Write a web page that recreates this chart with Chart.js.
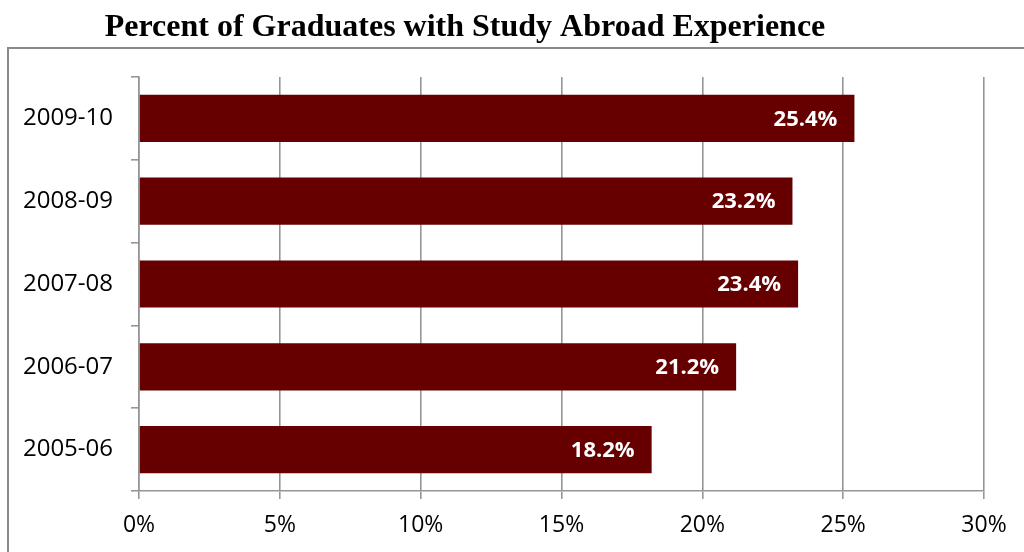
<!DOCTYPE html>
<html>
<head>
<meta charset="utf-8">
<script src="https://cdn.jsdelivr.net/npm/chart.js@4/dist/chart.umd.min.js"></script>
<style>
html,body{margin:0;padding:0;background:#fff;}
#wrap{width:1024px;height:552px;position:relative;}
</style>
</head>
<body>
<div id="wrap"><canvas id="c" width="1024" height="552"></canvas></div>
<script>
const years=['2009-10','2008-09','2007-08','2006-07','2005-06'];
const percents=[25.4,23.2,23.4,21.2,18.2];
const xTicks=[0,5,10,15,20,25,30];
const titleText='Percent of Graduates with Study Abroad Experience';

const barColor='#660000';
const gridColor='#959595';

// frame + title drawn on the canvas
const frame={
  id:'frame',
  beforeDraw(chart){
    const c=chart.ctx; c.save();
    c.fillStyle='#fff'; c.fillRect(0,0,chart.width,chart.height);
    c.strokeStyle='#8a8a8a'; c.lineWidth=2;
    c.strokeRect(8,48,1040,600);
    c.fillStyle='#000'; c.font='bold 32px "Liberation Serif"';
    c.textAlign='center'; c.textBaseline='alphabetic';
    c.fillText(titleText,465,36);
    c.restore();
  }
};

// white value labels inside bar ends
const barLabels={
  id:'barLabels',
  afterDatasetsDraw(chart){
    const c=chart.ctx, meta=chart.getDatasetMeta(0);
    c.save(); c.fillStyle='#fff'; c.font='bold 22px "Open Sans"';
    c.textAlign='right'; c.textBaseline='middle';
    meta.data.forEach((bar,i)=>{ c.fillText(percents[i].toFixed(1)+'%',bar.x-17,bar.y+1); });
    c.restore();
  }
};

new Chart(document.getElementById('c'),{
  type:'bar',
  data:{labels:years,datasets:[{data:percents,backgroundColor:barColor,barPercentage:0.57,categoryPercentage:1}]},
  options:{
    indexAxis:'y',responsive:false,animation:false,
    layout:{padding:{top:77,right:40,left:0,bottom:0}},
    plugins:{legend:{display:false},tooltip:{enabled:false},title:{display:false}},
    scales:{
      x:{
        min:0,max:30,
        afterBuildTicks(s){ s.ticks=xTicks.map(v=>({value:v})); },
        afterFit(s){ s.height=61; },
        grid:{color:gridColor,lineWidth:1.6,tickLength:8,tickColor:gridColor},
        border:{color:gridColor,width:1.6},
        ticks:{color:'#000',font:{family:'"Open Sans"',size:23},padding:13,maxRotation:0,callback:v=>v+'%'}
      },
      y:{
        afterFit(s){ s.width=139; },
        grid:{drawOnChartArea:false,color:gridColor,lineWidth:1.6,tickLength:8,tickColor:gridColor},
        border:{color:gridColor,width:1.6},
        ticks:{color:'#000',font:{family:'"Open Sans"',size:24},padding:18}
      }
    }
  },
  plugins:[frame,barLabels]
});
</script>
</body>
</html>
